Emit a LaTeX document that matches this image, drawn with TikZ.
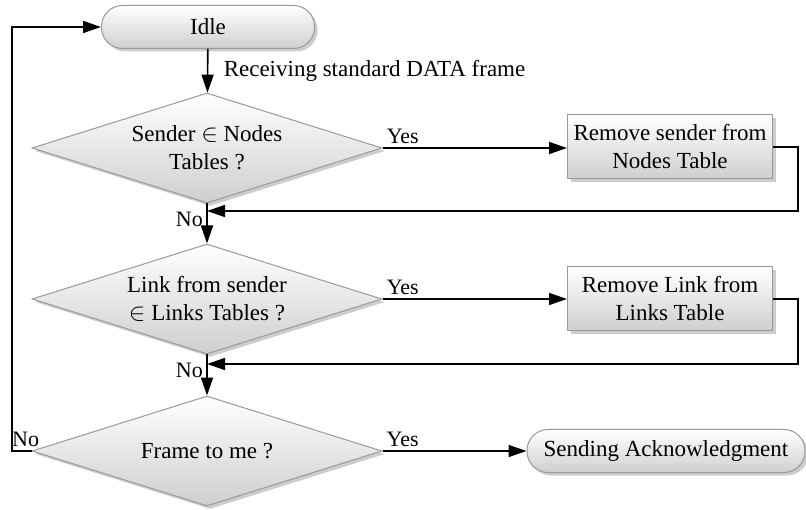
\documentclass[tikz,border=0pt]{standalone}
\usepackage{fontspec}
\setmainfont{Liberation Serif}
\usetikzlibrary{arrows.meta,positioning,shapes.geometric,shadows}

\begin{document}
\begin{tikzpicture}[x=1pt,y=-1pt,
    every node/.style={font=\fontsize{23}{28}\selectfont,align=center},
    greybox/.style={draw=gray!80,line width=1pt,top color=white,bottom color=gray!38,
      drop shadow={shadow xshift=3pt,shadow yshift=-3pt,opacity=.4}},
    terminal/.style={greybox,rectangle,rounded corners=21pt,minimum height=43pt},
    decision/.style={greybox,diamond,aspect=3.2,inner sep=0pt,minimum width=350pt,minimum height=110pt},
    process/.style={greybox,rectangle,inner sep=0pt,minimum width=205pt,minimum height=64pt},
    answer/.style={font=\fontsize{22}{26}\selectfont},
    flow/.style={line width=1.6pt,-{Triangle[length=18pt,width=12pt]}}]
    \useasboundingbox (0,0) rectangle (806,510);

    \node[terminal,minimum width=213pt] (idle) at (208,27) {Idle};
    \node[decision] (dec1) at (207,148) {Sender $\in$ Nodes\\Tables ?};
    \node[process] (rem1) at (670,147) {Remove sender from\\Nodes Table};
    \node[decision] (dec2) at (207,299) {Link from sender\\$\in$ Links Tables ?};
    \node[process] (rem2) at (670,299) {Remove Link from\\Links Table};
    \node[decision] (dec3) at (207,451) {Frame to me ?};
    \node[terminal,minimum width=278pt] (ack) at (666,451) {Sending Acknowledgment};

    \coordinate (join1) at (207,211);
    \coordinate (join2) at (207,364);
    \coordinate (loop) at (12,27);

    \draw[flow] (idle) -- node[right=12pt] (rxlabel) {Receiving standard DATA frame} (dec1);

    \draw[flow] (dec1) -- node[answer,pos=.11,above] (yes1) {Yes} (dec1 -| rem1.west);
    \draw[flow] (rem1.east) -- ++(25,0) |- (join1);
    \draw[flow] (dec1) -- node[answer,pos=.39,left] (no1) {No} (dec2);

    \draw[flow] (dec2) -- node[answer,pos=.11,above] (yes2) {Yes} (rem2);
    \draw[flow] (rem2.east) -- ++(25,0) |- (join2);
    \draw[flow] (dec2) -- node[answer,pos=.4,left] (no2) {No} (dec3);

    \draw[flow] (dec3) -- node[answer,pos=.14,above] (yes3) {Yes} (ack);
    \draw[flow] (dec3.west) -- node[answer,pos=.3,above] (no3) {No} (dec3.west -| loop)
      -- (loop) -- (idle);
\end{tikzpicture}
\end{document}
